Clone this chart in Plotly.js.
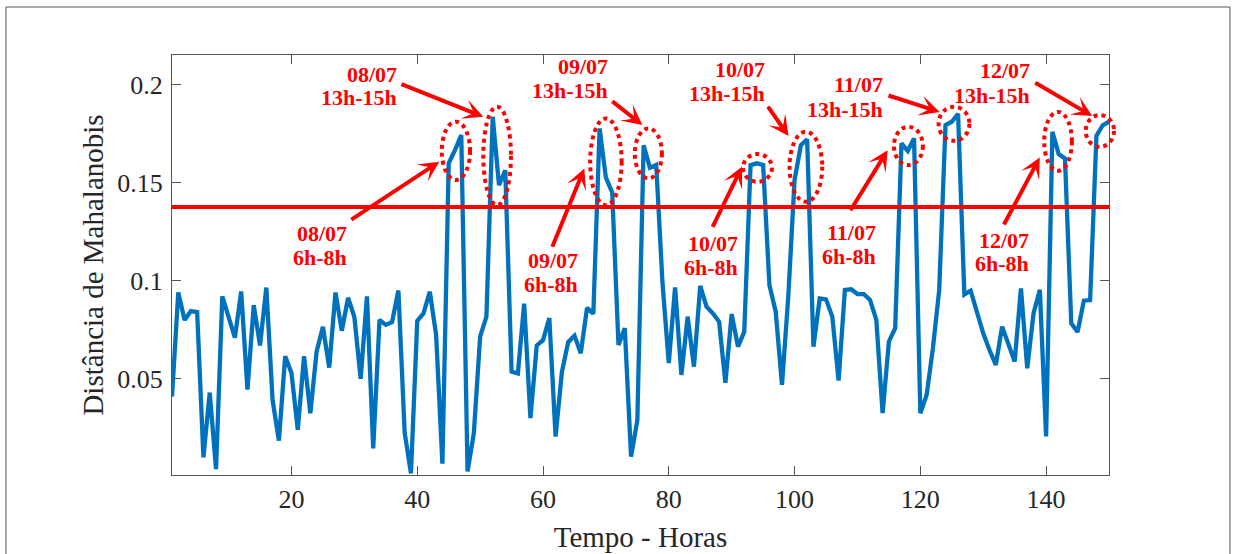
<!DOCTYPE html>
<html>
<head>
<meta charset="utf-8">
<script src="https://cdn.plot.ly/plotly-3.0.1.min.js"></script>
<style>html,body{margin:0;padding:0;background:#fff;}#chart{width:1235px;height:554px;}</style>
</head>
<body>
<div id="chart"></div>
<script>
// ---- data ----
const hours = [1,2,3,4,5,6,7,8,9,10,11,12,13,14,15,16,17,18,19,20,21,22,23,24,25,26,27,28,29,30,
  31,32,33,34,35,36,37,38,39,40,41,42,43,44,45,46,47,48,49,50,51,52,53,54,55,56,57,58,59,60,
  61,62,63,64,65,66,67,68,69,70,71,72,73,74,75,76,77,78,79,80,81,82,83,84,85,86,87,88,89,90,
  91,92,93,94,95,96,97,98,99,100,101,102,103,104,105,106,107,108,109,110,111,112,113,114,115,116,117,118,119,120,
  121,122,123,124,125,126,127,128,129,130,131,132,133,134,135,136,137,138,139,140,141,142,143,144,145,146,147,148,149,150];
const mahalanobis = [
  0.041,0.094,0.080,0.0845,0.084,0.010,0.043,0.004,0.092,0.082,
  0.071,0.0945,0.0445,0.0875,0.067,0.0965,0.039,0.0185,0.0615,0.053,
  0.024,0.0615,0.0325,0.064,0.0765,0.0557,0.094,0.0745,0.0913,0.0815,
  0.050,0.092,0.0145,0.080,0.0775,0.079,0.095,0.0225,0.0018,0.0795,
  0.0834,0.0944,0.0724,0.0068,0.1598,0.1665,0.1742,0.0028,0.0223,0.0715,
  0.0817,0.1835,0.1487,0.1562,0.0537,0.0527,0.0883,0.030,0.067,0.0697,
  0.081,0.0206,0.0535,0.0687,0.072,0.063,0.0862,0.0832,0.1776,0.1525,
  0.145,0.0673,0.0758,0.0104,0.029,0.169,0.1575,0.159,0.0987,0.058,
  0.0966,0.052,0.0817,0.0562,0.0973,0.0868,0.0834,0.0791,0.048,0.083,
  0.0664,0.074,0.1589,0.1598,0.159,0.0978,0.0842,0.0469,0.0919,0.1513,
  0.169,0.172,0.0664,0.091,0.0905,0.0817,0.0491,0.0953,0.0956,0.0932,
  0.0932,0.0902,0.080,0.0325,0.069,0.0758,0.170,0.1662,0.1725,0.0325,
  0.0418,0.0656,0.0953,0.1793,0.181,0.185,0.093,0.0949,0.0834,0.0732,
  0.0647,0.0571,0.0766,0.0681,0.0588,0.0961,0.0554,0.0834,0.0953,0.0206,
  0.1759,0.1645,0.1623,0.0783,0.0738,0.0898,0.0901,0.1738,0.1792,0.181];
const threshold = 0.1376;
const xTicks = [20,40,60,80,100,120,140];
const yTicks = [0.05,0.1,0.15,0.2];
const yTickText = ['0.05','0.1','0.15','0.2'];
const dayLabels = ['08/07','08/07','09/07','09/07','10/07','10/07','11/07','11/07','12/07','12/07'];
const periodLabels = ['6h-8h','13h-15h','6h-8h','13h-15h','6h-8h','13h-15h','6h-8h','13h-15h','6h-8h','13h-15h'];

// ---- layout helpers (positions in axis units) ----
const X_RANGE = [1, 150];
const Y_RANGE = [0.001, 0.215];
// ellipses [x0, x1, y0, y1]
const ellipses = [
  [43.9,48.4,0.1513,0.181],[50.5,54.9,0.1385,0.1886],[67.5,72.5,0.1385,0.1827],[74.6,78.9,0.1521,0.1776],
  [91.8,96.4,0.1504,0.1645],[99.2,104.4,0.1402,0.1759],[115.8,120.4,0.1589,0.1784],[122.9,127.8,0.1713,0.1886],
  [139.7,144.1,0.156,0.186],[146.3,150.8,0.1682,0.1844]
];
// label placement: right x, y of first line, y of second line
const labelPos = [
  [29.15,0.1242,0.1118],[37.08,0.205,0.1934],[65.9,0.1102,0.0982],[70.6,0.2091,0.1967],
  [91.35,0.119,0.1067],[95.6,0.2077,0.1954],[113.2,0.1245,0.1122],[114.3,0.2,0.1873],
  [137.6,0.1207,0.1087],[137.8,0.2069,0.1946]
];
// arrows: tail x, tail y, tip x, tip y
const arrows = [
  [29.28,0.1306,43.5,0.1606],[37.24,0.2005,50.5,0.1835],[61.38,0.1165,66.57,0.1572],[70.78,0.192,75.8,0.1793],
  [86.85,0.1267,91.63,0.158],[95.6,0.1895,99.04,0.1737],[108.75,0.1351,114.8,0.1665],[114.7,0.1946,123.07,0.186],
  [133.17,0.1279,138.99,0.1628],[138.04,0.2013,147.33,0.1839]
];
const px = x => (x - X_RANGE[0]) / (X_RANGE[1] - X_RANGE[0]);
const py = y => (y - Y_RANGE[0]) / (Y_RANGE[1] - Y_RANGE[0]);

const RED = '#ff0000';
const FONT = 'Liberation Serif, Times New Roman, serif';

const traces = [
  {x: hours, y: mahalanobis, type: 'scatter', mode: 'lines',
   line: {color: '#0072BD', width: 4.3}, hoverinfo: 'x+y', showlegend: false},
  {x: [hours[0], hours[hours.length-1]], y: [threshold, threshold], type: 'scatter', mode: 'lines',
   line: {color: RED, width: 4}, showlegend: false}
];

const shapes = ellipses.map(e => ({
  type: 'circle', xref: 'paper', yref: 'paper',
  x0: px(e[0]), x1: px(e[1]), y0: py(e[2]), y1: py(e[3]),
  line: {color: RED, width: 4, dash: 'dot'}, layer: 'above'
}));
// outer figure frame
shapes.push({type: 'rect', xref: 'paper', yref: 'paper',
  x0: -0.1772, x1: 1.1291, y0: -0.21, y1: 1.1143,
  line: {color: '#555', width: 1}, layer: 'below'});

const annotations = [];
labelPos.forEach((p, i) => {
  annotations.push({x: p[0], y: p[1], xref: 'x', yref: 'y', text: dayLabels[i], showarrow: false,
    xanchor: 'right', yanchor: 'middle', font: {family: FONT, size: 22, color: RED, weight: 'bold'}});
  annotations.push({x: p[0], y: p[2], xref: 'x', yref: 'y', text: periodLabels[i], showarrow: false,
    xanchor: 'right', yanchor: 'middle', font: {family: FONT, size: 22, color: RED, weight: 'bold'}});
});
arrows.forEach(a => {
  annotations.push({x: a[2], y: a[3], ax: a[0], ay: a[1], xref: 'x', yref: 'y', axref: 'x', ayref: 'y',
    text: '', showarrow: true, arrowhead: 3, arrowsize: 0.85, arrowwidth: 4, arrowcolor: RED, standoff: 0, startstandoff: 0});
});

const axisCommon = {
  showgrid: false, zeroline: false, showline: true, linecolor: '#555', linewidth: 1,
  mirror: 'ticks', ticks: 'inside', ticklen: 9, tickwidth: 1, tickcolor: '#555',
  tickfont: {family: FONT, size: 26, color: '#262626'}
};

const layout = {
  width: 1235, height: 554,
  margin: {l: 172, r: 126, t: 55, b: 79, pad: 0},
  paper_bgcolor: '#fff', plot_bgcolor: '#fff',
  xaxis: Object.assign({}, axisCommon, {range: X_RANGE, tickvals: xTicks, ticklabelstandoff: 1,
    title: {text: 'Tempo - Horas', font: {family: FONT, size: 29, color: '#262626'}, standoff: 13}}),
  yaxis: Object.assign({}, axisCommon, {range: Y_RANGE, tickvals: yTicks, ticktext: yTickText, ticklabelstandoff: 3,
    title: {text: 'Distância de Mahalanobis', font: {family: FONT, size: 29, color: '#262626'}, standoff: 5}}),
  shapes: shapes,
  annotations: annotations,
  showlegend: false
};

Plotly.newPlot('chart', traces, layout, {displayModeBar: false, staticPlot: true});
</script>
</body>
</html>
